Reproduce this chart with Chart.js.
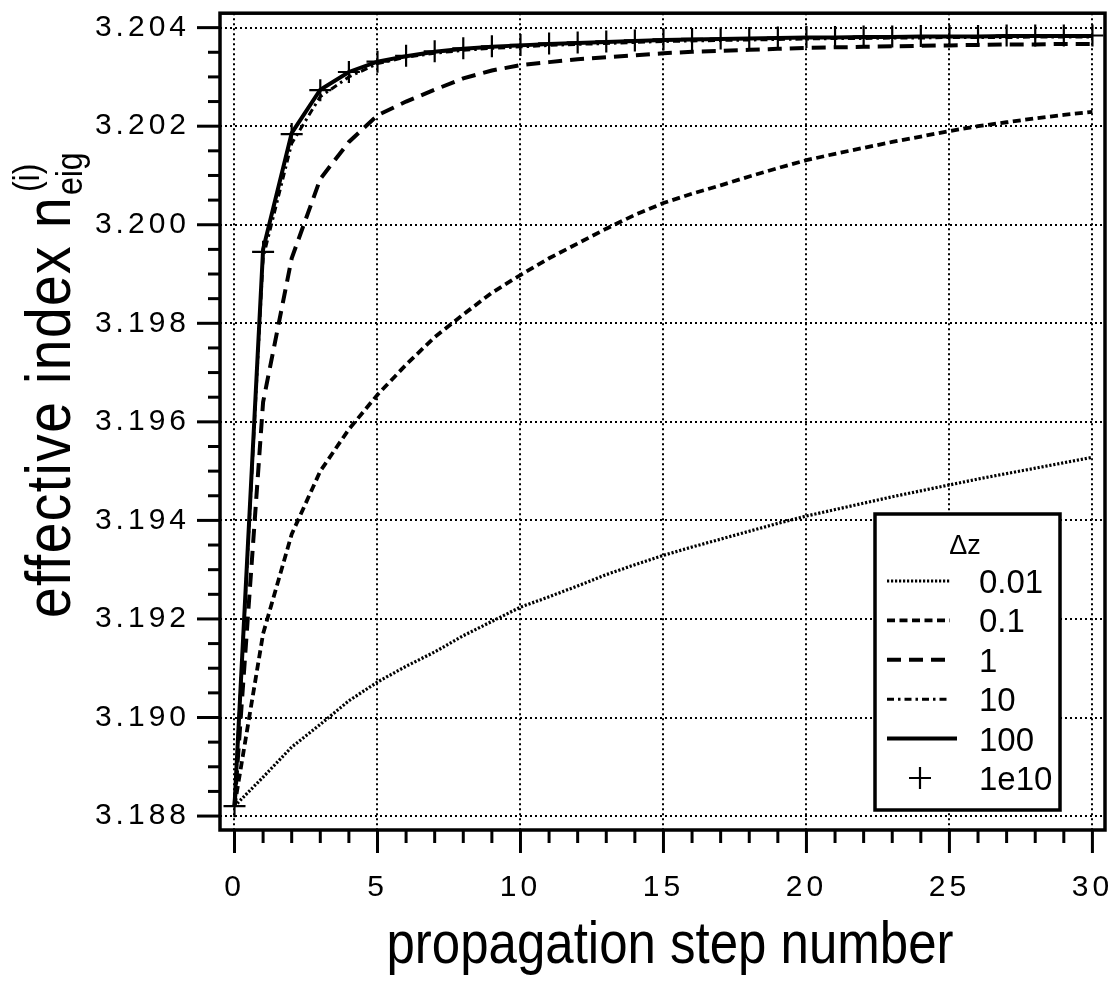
<!DOCTYPE html>
<html>
<head>
<meta charset="utf-8">
<script src="https://cdn.jsdelivr.net/npm/chart.js@4.4.0/dist/chart.umd.min.js"></script>
<style>
  html, body { margin: 0; padding: 0; background: #fff; }
  #wrap { width: 1119px; height: 983px; }
</style>
</head>
<body>
<div id="wrap"><canvas id="chart" width="1119" height="983"></canvas></div>
<script>
// propagation steps
const steps = [0, 1, 2, 3, 4, 5, 6, 7, 8, 9, 10, 11, 12, 13, 14, 15, 16, 17, 18, 19, 20, 21, 22, 23, 24, 25, 26, 27, 28, 29, 30];

// effective index for each dz
const dz001 = [3.1882, 3.18879, 3.1894, 3.18986, 3.19034, 3.19072, 3.19104, 3.19133, 3.19166, 3.19195, 3.19224,
  3.19245, 3.19267, 3.1929, 3.1931, 3.19329, 3.19346, 3.19362, 3.19378, 3.19394, 3.19409,
  3.19422, 3.19435, 3.19448, 3.1946, 3.19472, 3.19484, 3.19495, 3.19506, 3.19517, 3.19528];
const dz01 = [3.1882, 3.1917, 3.19372, 3.195, 3.19585, 3.19655, 3.19716, 3.19772, 3.19818, 3.19862, 3.19898,
  3.19932, 3.19962, 3.19992, 3.2002, 3.20044, 3.20063, 3.2008, 3.20098, 3.20115, 3.20131,
  3.20144, 3.20156, 3.20168, 3.20179, 3.2019, 3.202, 3.20208, 3.20216, 3.20223, 3.20229];
const dz1 = [3.1882, 3.1964, 3.19932, 3.20093, 3.20168, 3.20222, 3.2025, 3.20274, 3.20297, 3.20313, 3.20324,
  3.2033, 3.20336, 3.2034, 3.20344, 3.20348, 3.20351, 3.20353, 3.20355, 3.20357, 3.20359,
  3.2036, 3.20361, 3.20362, 3.20363, 3.20364, 3.20365, 3.20366, 3.20366, 3.20367, 3.20367];
const dz10 = [3.1882, 3.19933, 3.20165, 3.2026, 3.203, 3.20327, 3.2034, 3.20348, 3.20354, 3.20358, 3.20361,
  3.20364, 3.20366, 3.20368, 3.2037, 3.20372, 3.20373, 3.20374, 3.20375, 3.20376, 3.20377,
  3.20378, 3.20378, 3.20379, 3.20379, 3.2038, 3.2038, 3.2038, 3.20381, 3.20381, 3.20381];
const dz100 = [3.1882, 3.1995, 3.20186, 3.20274, 3.2031, 3.20331, 3.20342, 3.20351, 3.20357, 3.20361, 3.20364,
  3.20367, 3.20369, 3.20371, 3.20373, 3.20375, 3.20376, 3.20377, 3.20378, 3.20379, 3.2038,
  3.2038, 3.20381, 3.20381, 3.20382, 3.20382, 3.20382, 3.20383, 3.20383, 3.20383, 3.20383];
const dz1e10 = [3.1882, 3.19945, 3.20184, 3.20273, 3.2031, 3.20331, 3.20343, 3.20352, 3.20358, 3.20362, 3.20365,
  3.20368, 3.2037, 3.20372, 3.20374, 3.20376, 3.20377, 3.20378, 3.20379, 3.2038, 3.20381,
  3.20381, 3.20382, 3.20382, 3.20383, 3.20383, 3.20383, 3.20384, 3.20384, 3.20384, 3.20384];

const seriesLabels = ['0.01', '0.1', '1', '10', '100', '1e10'];
const legendTitle = 'Δz';

// axes
const xTicks = [0, 5, 10, 15, 20, 25, 30];
const yTicks = [3.188, 3.190, 3.192, 3.194, 3.196, 3.198, 3.200, 3.202, 3.204];
const xTitle = 'propagation step number';
const yTitle = 'effective index n';
const yTitleSub = 'eig';
const yTitleSup = '(i)';

const FONT = "'Liberation Sans', Arial, Helvetica, sans-serif";

function pts(arr) {
    return steps.map((s, i) => ({ x: s, y: arr[i] }));
}

function lineSet(label, arr, dash, width) {
    return {
        label: label,
        data: pts(arr),
        borderColor: '#000',
        backgroundColor: '#000',
        borderWidth: width,
        borderDash: dash,
        pointRadius: 0,
        tension: 0,
        fill: false
    };
}

const datasets = [
    lineSet(seriesLabels[0], dz001, [2.2, 1.8], 3.2),
    lineSet(seriesLabels[1], dz01, [8, 4.5], 3.8),
    lineSet(seriesLabels[2], dz1, [14, 8], 4),
    lineSet(seriesLabels[3], dz10, [7, 4, 2.5, 4], 3),
    lineSet(seriesLabels[4], dz100, [], 4),
    {
        label: seriesLabels[5],
        data: pts(dz1e10),
        showLine: false,
        pointStyle: 'cross',
        pointRadius: 11,
        pointBorderWidth: 2.2,
        borderColor: '#000',
        backgroundColor: '#000'
    }
];

// no automatic label padding around the plot area
function noPad(s) {
    s.paddingTop = 0;
    s.paddingBottom = 0;
    s.paddingLeft = 0;
    s.paddingRight = 0;
}

// ticks, frame, titles and legend
const decorPlugin = {
    id: 'decor',
    beforeDraw(chart) {
        chart.ctx.letterSpacing = '4px';
    },
    beforeDatasetsDraw(chart) {
        chart.ctx.letterSpacing = '0px';
    },
    afterDraw(chart) {
        const ctx = chart.ctx;
        const ca = chart.chartArea;
        const xs = chart.scales.x, ys = chart.scales.y;
        ctx.save();
        ctx.letterSpacing = '0px';
        ctx.strokeStyle = '#000';
        ctx.fillStyle = '#000';
        ctx.setLineDash([]);

        // frame
        ctx.lineWidth = 3.5;
        ctx.strokeRect(ca.left, ca.top, ca.right - ca.left, ca.bottom - ca.top);

        // tick marks
        ctx.lineWidth = 3;
        for (let v = 0; v <= 30; v++) {
            const px = xs.getPixelForValue(v);
            const len = v % 5 === 0 ? 23 : 13;
            ctx.beginPath();
            ctx.moveTo(px, ca.bottom);
            ctx.lineTo(px, ca.bottom + len);
            ctx.stroke();
        }
        for (let k = 0; k <= 32; k++) {
            const py = ys.getPixelForValue(3.188 + k * 0.0005);
            const len = k % 4 === 0 ? 23 : 12;
            ctx.beginPath();
            ctx.moveTo(ca.left, py);
            ctx.lineTo(ca.left - len, py);
            ctx.stroke();
        }

        // x title
        ctx.save();
        ctx.translate(670, 963);
        ctx.scale(1, 1.15);
        ctx.font = '51px ' + FONT;
        ctx.textAlign = 'center';
        ctx.textBaseline = 'alphabetic';
        ctx.fillText(xTitle, 0, 0);
        ctx.restore();

        // y title with sub/superscript
        ctx.save();
        ctx.translate(70, 618);
        ctx.rotate(-Math.PI / 2);
        ctx.scale(1, 1.15);
        ctx.letterSpacing = '1.5px';
        ctx.font = '55px ' + FONT;
        ctx.textAlign = 'left';
        ctx.textBaseline = 'alphabetic';
        ctx.fillText(yTitle, 0, 0);
        const w = ctx.measureText(yTitle).width;
        ctx.letterSpacing = '0px';
        ctx.font = '32px ' + FONT;
        ctx.fillText(yTitleSub, w + 1, 10);
        ctx.fillText(yTitleSup, w + 4, -27);
        ctx.restore();

        // legend box
        const bx = 875, by = 514, bw = 185, bh = 296;
        ctx.fillStyle = '#fff';
        ctx.fillRect(bx, by, bw, bh);
        ctx.fillStyle = '#000';
        ctx.lineWidth = 3.5;
        ctx.strokeRect(bx, by, bw, bh);
        ctx.font = '27px ' + FONT;
        ctx.textAlign = 'center';
        ctx.fillText(legendTitle, 965, 554);
        ctx.font = '33px ' + FONT;
        ctx.textAlign = 'left';
        chart.data.datasets.forEach((ds, i) => {
            const base = 593 + i * 39.4;
            const ly = base - 12;
            if (ds.showLine === false) {
                ctx.lineWidth = 2.2;
                ctx.setLineDash([]);
                ctx.beginPath();
                ctx.moveTo(920 - 11, ly);
                ctx.lineTo(920 + 11, ly);
                ctx.moveTo(920, ly - 11);
                ctx.lineTo(920, ly + 11);
                ctx.stroke();
            } else {
                ctx.lineWidth = ds.borderWidth;
                ctx.setLineDash(ds.borderDash);
                ctx.beginPath();
                ctx.moveTo(887, ly);
                ctx.lineTo(ds.borderDash.length ? 950 : 957, ly);
                ctx.stroke();
            }
            ctx.setLineDash([]);
            ctx.fillText(ds.label, 979, base);
        });
        ctx.restore();
    }
};

new Chart(document.getElementById('chart'), {
    type: 'line',
    data: { datasets: datasets },
    plugins: [decorPlugin],
    options: {
        responsive: false,
        devicePixelRatio: 1,
        animation: false,
        events: [],
        layout: { padding: { left: 0, top: 11, right: 14, bottom: 0 } },
        plugins: {
            legend: { display: false },
            tooltip: { enabled: false }
        },
        scales: {
            x: {
                type: 'linear',
                min: -0.507,
                max: 30.44,
                afterBuildTicks: s => { s.ticks = xTicks.map(v => ({ value: v })); },
                afterFit: s => { s.height = 153; noPad(s); },
                ticks: {
                    color: '#000',
                    font: { family: FONT, size: 30 },
                    padding: 40,
                    maxRotation: 0,
                    autoSkip: false
                },
                grid: { color: '#000', lineWidth: 2, drawTicks: false },
                border: { display: false, dash: [2, 3] }
            },
            y: {
                type: 'linear',
                min: 3.187717,
                max: 3.204293,
                afterBuildTicks: s => { s.ticks = yTicks.map(v => ({ value: v })); },
                afterFit: s => { s.width = 220; noPad(s); },
                ticks: {
                    color: '#000',
                    font: { family: FONT, size: 30 },
                    padding: 30,
                    callback: v => v.toFixed(3)
                },
                grid: { color: '#000', lineWidth: 2, drawTicks: false },
                border: { display: false, dash: [2, 3] }
            }
        }
    }
});
</script>
</body>
</html>
